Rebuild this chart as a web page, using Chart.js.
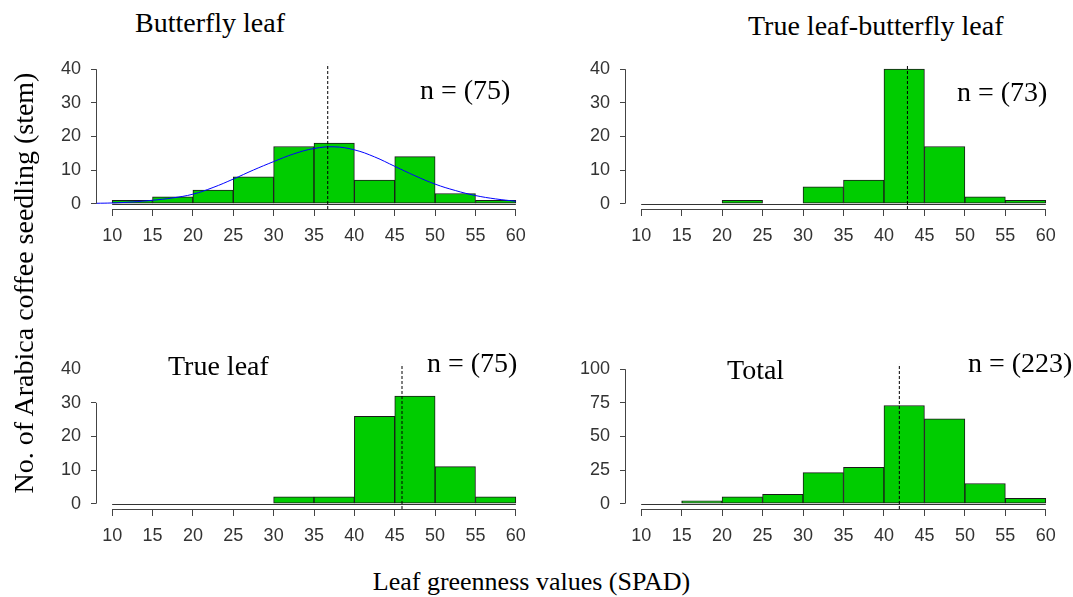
<!DOCTYPE html>
<html>
<head>
<meta charset="utf-8">
<script src="https://cdn.jsdelivr.net/npm/chart.js@4.4.1/dist/chart.umd.min.js"></script>
<style>
  html, body { margin:0; padding:0; background:#fff; }
  body { width:1073px; height:597px; position:relative; overflow:hidden; }
  canvas { position:absolute; }
  .t { position:absolute; font-family:"Liberation Serif","Times New Roman",serif; font-size:28px; line-height:1; color:#000; white-space:nowrap; }
</style>
</head>
<body>
<script>
// ---------------- data ----------------
const xTicks = [10, 15, 20, 25, 30, 35, 40, 45, 50, 55, 60];
const binStarts = [10, 15, 20, 25, 30, 35, 40, 45, 50, 55];
const butterflyCounts = [1, 2, 4, 8, 17, 18, 7, 14, 3, 1];
const trueButterflyCounts = [0, 0, 1, 0, 5, 7, 40, 17, 2, 1];
const trueLeafCounts = [0, 0, 0, 0, 2, 2, 26, 32, 11, 2];
const totalCounts = [0, 2, 5, 7, 23, 27, 73, 63, 15, 4];
const means = [36.7, 42.9, 45.9, 41.9];
const curveX = [8, 10, 12.5, 15, 17.5, 20, 22.5, 25, 27.5, 30, 32.5, 35, 37.5, 40, 42.5, 45, 47.5, 50, 52.5, 55, 57.5, 60];
const curveY = [0.1, 0.2, 0.5, 1.0, 1.7, 2.8, 4.8, 7.3, 10.0, 12.5, 14.8, 16.4, 16.9, 16.0, 13.9, 11.1, 8.3, 5.8, 3.9, 2.4, 1.4, 0.7];
const yTicksSmall = [0, 10, 20, 30, 40];
const yTicksTotal = [0, 25, 50, 75, 100];
const panelTitles = ["Butterfly leaf", "True leaf-butterfly leaf", "True leaf", "Total"];
const nLabels = ["n = (75)", "n = (73)", "n = (75)", "n = (223)"];
const xTitle = "Leaf greenness values (SPAD)";
const yTitle = "No. of Arabica coffee seedling (stem)";

// ---------------- layout ----------------
const panels = [
  { L: 96,  R: 532,  T: 53,  B: 209, counts: butterflyCounts,     yTicks: yTicksSmall, yMin: -1.6, yMax: 41.6, axisTop: 40, curve: true },
  { L: 625, R: 1062, T: 53,  B: 209, counts: trueButterflyCounts, yTicks: yTicksSmall, yMin: -1.6, yMax: 41.6, axisTop: 40 },
  { L: 96,  R: 532,  T: 353, B: 509, counts: trueLeafCounts,      yTicks: yTicksSmall, yMin: -1.6, yMax: 41.6, axisTop: 30 },
  { L: 625, R: 1062, T: 353, B: 509, counts: totalCounts,         yTicks: yTicksTotal, yMin: -4,   yMax: 104,  axisTop: 100 }
];
const textPos = [
  { title: [135, 9],    n: [420, 76] },
  { title: [748, 11.5], n: [957, 77.5] },
  { title: [168, 351.5], n: [427, 348.5] },
  { title: [727, 355.5], n: [968, 348.5] }
];

const AX = '#444';
const PADL = 70, PADT = 10, PADR = 10, PADB = 50;

const rAxes = {
  id: 'rAxes',
  beforeDatasetsDraw(chart, args, opts) {
    const x = chart.scales.x, y = chart.scales.y, ctx = chart.ctx;
    ctx.save();
    ctx.strokeStyle = '#333';
    ctx.lineWidth = 1;
    ctx.beginPath();
    const y0 = Math.round(y.getPixelForValue(0)) + 0.5;
    ctx.moveTo(x.getPixelForValue(xTicks[0]), y0);
    ctx.lineTo(x.getPixelForValue(xTicks[xTicks.length - 1]), y0);
    ctx.stroke();
    ctx.restore();
  },
  afterDraw(chart, args, opts) {
    const x = chart.scales.x, y = chart.scales.y, ctx = chart.ctx, ca = chart.chartArea;
    ctx.save();
    ctx.strokeStyle = AX;
    ctx.lineWidth = 1;
    ctx.beginPath();
    const ax = Math.round(ca.left) + 0.5;
    ctx.moveTo(ax, y.getPixelForValue(0));
    ctx.lineTo(ax, y.getPixelForValue(opts.axisTop));
    const by = Math.round(ca.bottom) + 0.5;
    ctx.moveTo(x.getPixelForValue(xTicks[0]), by);
    ctx.lineTo(x.getPixelForValue(xTicks[xTicks.length - 1]), by);
    ctx.stroke();
    ctx.restore();
  }
};

panels.forEach((p, i) => {
  const cv = document.createElement('canvas');
  const W = (p.R - p.L) + PADL + PADR, H = (p.B - p.T) + PADT + PADB;
  cv.width = W; cv.height = H;
  cv.style.left = (p.L - PADL) + 'px';
  cv.style.top = (p.T - PADT) + 'px';
  cv.style.width = W + 'px'; cv.style.height = H + 'px';
  document.body.appendChild(cv);

  const datasets = [{
    type: 'bar',
    data: binStarts.map((s, k) => ({ x: s + 2.5, y: p.counts[k] })),
    backgroundColor: '#00CC00',
    borderColor: '#1a1a1a',
    borderWidth: 1,
    borderSkipped: false,
    barPercentage: 1,
    categoryPercentage: 1,
    grouped: false,
    order: 3
  }];
  if (p.curve) {
    datasets.push({
      type: 'line',
      data: curveX.map((v, k) => ({ x: v, y: curveY[k] })),
      borderColor: '#0000FF',
      borderWidth: 1,
      pointRadius: 0,
      tension: 0.4,
      fill: false,
      order: 2
    });
  }
  datasets.push({
    type: 'line',
    data: [{ x: means[i], y: p.yMin }, { x: means[i], y: p.yMax }],
    borderColor: '#000',
    borderWidth: 1,
    borderDash: [3, 2],
    pointRadius: 0,
    fill: false,
    order: 1
  });

  new Chart(cv, {
    type: 'bar',
    data: { datasets },
    plugins: [rAxes],
    options: {
      responsive: false,
      animation: false,
      devicePixelRatio: 1,
      layout: { padding: { left: 0, top: PADT, right: PADR, bottom: 0 } },
      plugins: { legend: { display: false }, tooltip: { enabled: false }, rAxes: { axisTop: p.axisTop } },
      scales: {
        x: {
          type: 'linear',
          min: 8, max: 62,
          offset: false,
          afterBuildTicks: s => { s.ticks = xTicks.map(v => ({ value: v })); },
          afterFit: s => { s.height = PADB; },
          grid: { offset: false, drawOnChartArea: false, drawTicks: true, tickLength: 7, color: AX, lineWidth: 1 },
          border: { display: false },
          ticks: { color: '#333', font: { family: 'Liberation Sans, Arial, sans-serif', size: 18 }, padding: 9, autoSkip: false, maxRotation: 0 }
        },
        y: {
          type: 'linear',
          min: p.yMin, max: p.yMax,
          afterBuildTicks: s => { s.ticks = p.yTicks.map(v => ({ value: v })); },
          afterFit: s => { s.width = PADL; },
          grid: {
            drawOnChartArea: false, drawTicks: true, tickLength: 5, lineWidth: 1,
            color: c => (c.tick && c.tick.value > p.axisTop) ? 'rgba(0,0,0,0)' : AX
          },
          border: { display: false },
          ticks: { color: '#333', font: { family: 'Liberation Sans, Arial, sans-serif', size: 18 }, padding: 10, autoSkip: false }
        }
      }
    }
  });

  const t = document.createElement('div');
  t.className = 't';
  t.textContent = panelTitles[i];
  t.style.left = textPos[i].title[0] + 'px';
  t.style.top = textPos[i].title[1] + 'px';
  document.body.appendChild(t);
  const n = document.createElement('div');
  n.className = 't';
  n.textContent = nLabels[i];
  n.style.left = textPos[i].n[0] + 'px';
  n.style.top = textPos[i].n[1] + 'px';
  document.body.appendChild(n);
});

const xt = document.createElement('div');
xt.className = 't';
xt.textContent = xTitle;
xt.style.fontSize = '26px';
xt.style.left = '0px'; xt.style.width = '1063px'; xt.style.textAlign = 'center';
xt.style.top = '569px';
document.body.appendChild(xt);

const yt = document.createElement('div');
yt.className = 't';
yt.textContent = yTitle;
yt.style.width = '500px'; yt.style.height = '28px'; yt.style.textAlign = 'center';
yt.style.left = (23.6 - 250) + 'px';
yt.style.top = (283 - 14) + 'px';
yt.style.transform = 'rotate(-90deg)';
document.body.appendChild(yt);
</script>
</body>
</html>
